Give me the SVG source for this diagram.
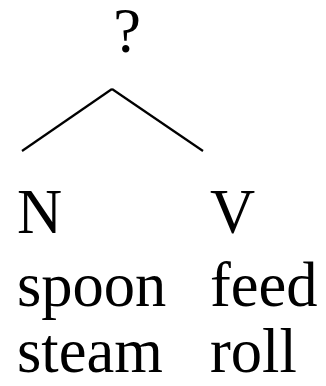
<svg xmlns="http://www.w3.org/2000/svg" width="326" height="386" viewBox="0 0 326 386">
<style>
text{font-family:"Liberation Serif","Times New Roman",serif;font-size:62.5px;fill:#000}
.edge{stroke:#000;stroke-width:2.2;fill:none}
</style>
<rect width="326" height="386" fill="#fff"/>
<g id="root"><text x="127" y="52" text-anchor="middle">?</text></g>
<g id="connectors">
<line class="edge" x1="112" y1="89" x2="22" y2="151"/>
<line class="edge" x1="112" y1="89" x2="203" y2="151"/>
</g>
<g id="N"><text x="17" y="233">N</text><text x="17" y="306">spoon</text><text x="17" y="372">steam</text></g>
<g id="V"><text x="210" y="233">V</text><text x="210" y="306">feed</text><text x="210" y="372">roll</text></g>
</svg>
